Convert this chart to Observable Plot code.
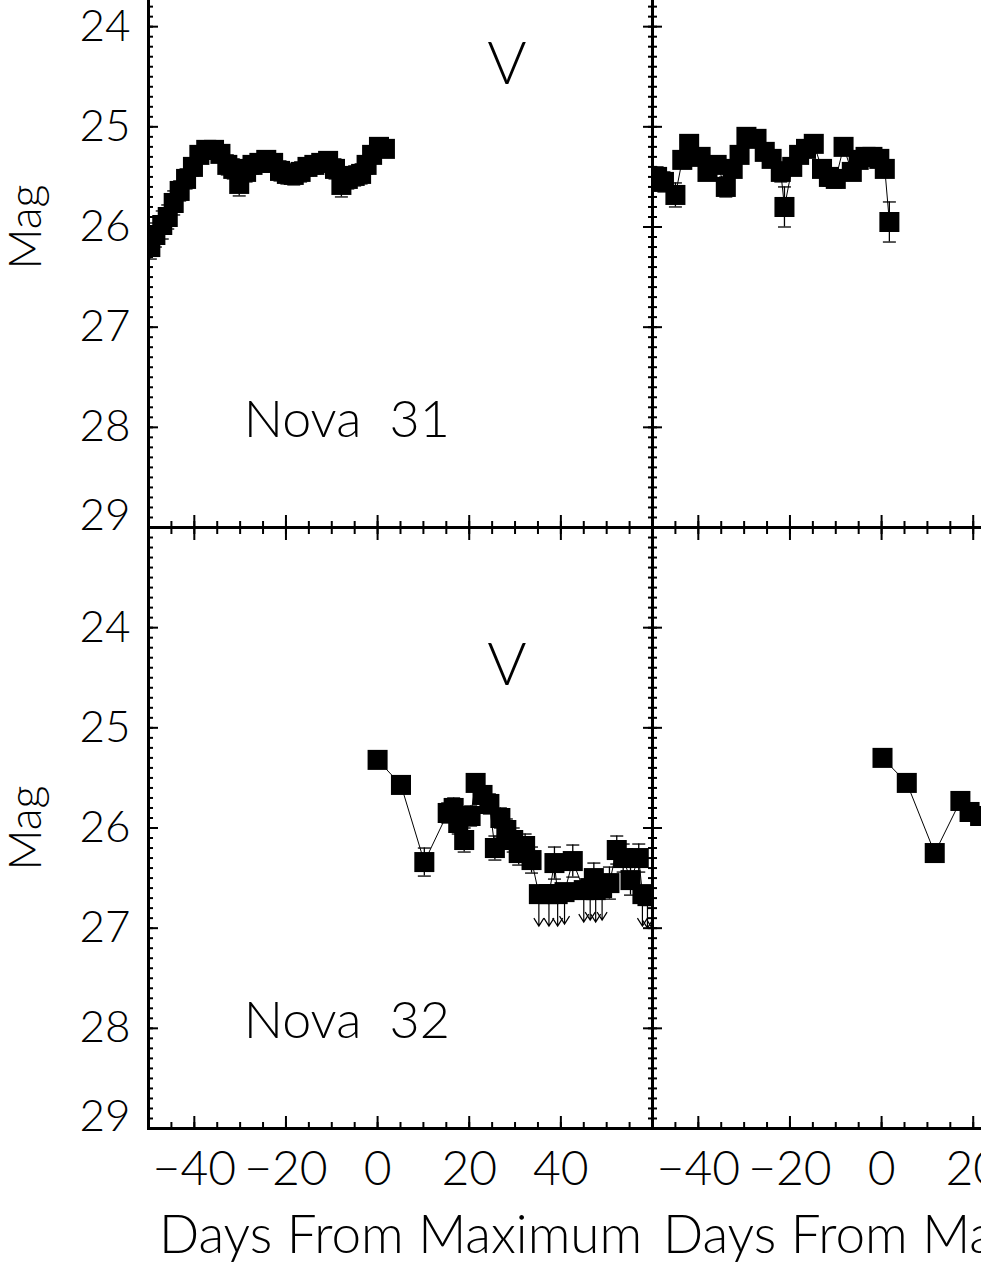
<!DOCTYPE html>
<html>
<head>
<meta charset="utf-8">
<script src="https://cdn.jsdelivr.net/npm/d3@7"></script>
<script src="https://cdn.jsdelivr.net/npm/@observablehq/plot@0.6"></script>
<style>
html, body { margin: 0; padding: 0; background: #fff; }
#wrap { position: relative; width: 981px; height: 1269px; overflow: hidden; background: #fff; }
#wrap svg { position: absolute; left: 0; top: -74px; max-width: none !important; width: 1176px !important; height: 1343px !important; }
</style>
</head>
<body>
<div id="wrap"></div>
<script>
// ---------------- data ----------------
// Nova 31, V band (top-left panel)
const n31V_day = [-49.6,-48.5,-47.0,-45.8,-44.5,-43.2,-41.8,-40.3,-38.9,-37.4,-35.7,-34.3,-32.8,-31.5,-30.2,-28.7,-27.3,-25.8,-24.3,-22.8,-21.3,-19.8,-18.3,-16.8,-15.3,-13.8,-12.3,-10.8,-9.3,-7.9,-6.5,-5.0,-3.6,-2.4,-1.2,0.3,1.6];
const n31V_mag = [26.2,26.08,25.98,25.9,25.76,25.64,25.52,25.4,25.28,25.23,25.23,25.27,25.38,25.42,25.57,25.45,25.38,25.36,25.33,25.36,25.44,25.47,25.48,25.45,25.4,25.38,25.36,25.34,25.42,25.58,25.52,25.49,25.47,25.38,25.28,25.2,25.22];
const n31V_err = [0.12,0.12,0.14,0.12,0.12,0.1,0.1,0.09,0.08,0.07,0.07,0.08,0.1,0.1,0.12,0.1,0.09,0.09,0.09,0.09,0.1,0.1,0.1,0.1,0.09,0.09,0.09,0.09,0.1,0.12,0.1,0.1,0.1,0.09,0.08,0.07,0.07];

// Nova 31, second band (top-right panel)
const n31b_day = [-49,-47.5,-45,-43.5,-42,-39.5,-38,-36,-34,-32.5,-31,-29.5,-27.3,-25.5,-24,-22,-21.2,-19.5,-18,-16.5,-14.8,-13,-11.5,-10,-8.3,-6.5,-5,-3.5,-2,-0.5,0.7,1.7];
const n31b_mag = [25.5,25.55,25.68,25.33,25.17,25.3,25.45,25.38,25.6,25.42,25.28,25.1,25.12,25.25,25.32,25.45,25.8,25.4,25.28,25.22,25.17,25.42,25.5,25.52,25.2,25.45,25.33,25.3,25.3,25.32,25.42,25.95];
const n31b_err = [0.1,0.1,0.12,0.08,0.06,0.07,0.08,0.07,0.1,0.08,0.07,0.06,0.06,0.07,0.08,0.1,0.2,0.08,0.07,0.07,0.06,0.08,0.09,0.09,0.07,0.08,0.07,0.07,0.06,0.07,0.08,0.2];

// Nova 32, V band (bottom-left panel); lim = 1 marks an upper limit
const n32V_day = [0,5.1,10.2,15.3,16.6,17.6,18.9,20.3,21.4,22.9,24.4,25.6,26.8,28.1,29.6,30.8,32.2,33.6,35.2,37.4,38.6,39.3,40.8,42.6,45.0,46.4,47.2,47.6,49.0,50.6,52.2,53.6,55.2,57.0,57.8,58.9,59.9];
const n32V_mag = [25.32,25.57,26.34,25.85,25.8,25.95,26.12,25.88,25.55,25.67,25.76,26.2,25.9,26.02,26.12,26.25,26.18,26.32,26.66,26.66,26.35,26.66,26.64,26.33,26.62,26.6,26.5,26.62,26.6,26.55,26.22,26.3,26.52,26.3,26.66,26.68,26.68];
const n32V_err = [0.04,0.05,0.14,0.1,0.1,0.11,0.12,0.1,0.08,0.09,0.1,0.12,0.1,0.11,0.12,0.12,0.12,0.13,0,0,0.16,0,0,0.16,0,0,0.15,0,0,0.16,0.14,0.14,0.15,0.14,0,0,0];
const n32V_lim = [0,0,0,0,0,0,0,0,0,0,0,0,0,0,0,0,0,0,1,1,0,1,1,0,1,1,0,1,1,0,0,0,0,0,1,1,1];

// Nova 32, second band (bottom-right panel, visible part)
const n32b_day = [0.2,5.5,11.6,17.2,19.2,21.5];
const n32b_mag = [25.3,25.55,26.25,25.73,25.84,25.88];
const n32b_err = [0.04,0.05,0.05,0.08,0.08,0.08];

// axes
const yMajor = [23,24,25,26,27,28,29];
const yLabels = [24,25,26,27,28];
const yLastLabel = [29];
const xMajor = [-40,-20,0,20,40,60];
const xLabels = [-40,-20,0,20,40];
const yMinor = d3.range(230, 291).map(v => v / 10);
const xMinor = d3.range(-50, 61, 5);

// annotations
const bandLabels = [{col: "L", row: "T", x: 28.2, y: 24.38, text: "V"}, {col: "L", row: "B", x: 28.2, y: 24.38, text: "V"}];
const novaLabels = [{col: "L", row: "T", x: -29.2, y: 27.93, text: "Nova\u00a0 31"}, {col: "L", row: "B", x: -29.2, y: 27.93, text: "Nova\u00a0 32"}];

// ---------------- build table ----------------
function series(name, col, row, days, mags, errs, lims) {
  return days.map((d, i) => ({series: name, col, row, day: d, mag: mags[i], err: errs[i], lim: lims ? lims[i] === 1 : false}));
}
const pts = [
  ...series("n31V", "L", "T", n31V_day, n31V_mag, n31V_err),
  ...series("n31b", "R", "T", n31b_day, n31b_mag, n31b_err),
  ...series("n32V", "L", "B", n32V_day, n32V_mag, n32V_err, n32V_lim),
  ...series("n32b", "R", "B", n32b_day, n32b_mag, n32b_err)
];
const det = pts.filter(d => !d.lim && d.err > 0);
const lims = pts.filter(d => d.lim);

const capSymbol = {draw(ctx, size) { const r = Math.sqrt(size / Math.PI); ctx.moveTo(-r, 0); ctx.lineTo(r, 0); }};
const arrowSymbol = {draw(ctx, size) {
  const L = Math.sqrt(size / Math.PI);
  ctx.moveTo(0, 0); ctx.lineTo(0, L);
  ctx.moveTo(-5, L - 8); ctx.lineTo(0, L); ctx.lineTo(5, L - 8);
}};

const FONT = "Lato, 'DejaVu Sans', sans-serif";
const fmt = d => d < 0 ? "\u2212" + (-d) : String(d);
const fxy = {fx: "col", fy: "row"};

const tickOpts = {facetAnchor: null, fill: "none", stroke: "black", strokeWidth: 2, label: null};

const chart = Plot.plot({
  width: 1176,
  height: 1343,
  marginLeft: 148,
  marginRight: 20,
  marginTop: 0,
  marginBottom: 141,
  style: {fontFamily: FONT, fontWeight: 300, background: "white", color: "black", overflow: "visible"},
  fx: {domain: ["L", "R"], padding: 0, axis: null, label: null},
  fy: {domain: ["T", "B"], padding: 0, axis: null, label: null},
  x: {domain: [-50, 60]},
  y: {domain: [23, 29], reverse: true},
  marks: [
    Plot.line(pts, {x: "day", y: "mag", ...fxy, z: "series", stroke: "black", strokeWidth: 1, clip: true}),
    Plot.ruleX(det, {x: "day", y1: d => d.mag - d.err, y2: d => d.mag + d.err, ...fxy, stroke: "black", strokeWidth: 1.3, clip: true}),
    Plot.dot(det, {x: "day", y: d => d.mag - d.err, ...fxy, symbol: capSymbol, r: 6.5, fill: "none", stroke: "black", strokeWidth: 1.3, clip: true}),
    Plot.dot(det, {x: "day", y: d => d.mag + d.err, ...fxy, symbol: capSymbol, r: 6.5, fill: "none", stroke: "black", strokeWidth: 1.3, clip: true}),
    Plot.dot(lims, {x: "day", y: "mag", ...fxy, symbol: arrowSymbol, r: 32, fill: "none", stroke: "black", strokeWidth: 1.2, clip: true}),
    Plot.dot(pts, {x: "day", y: "mag", ...fxy, symbol: "square", r: 11.3, fill: "black", stroke: "none", clip: true}),
    Plot.frame({stroke: "black", strokeWidth: 3}),
    // ticks on all four sides of every panel, pointing inward
    Plot.axisY(yMinor, {anchor: "left", tickSize: -5, ...tickOpts}),
    Plot.axisY(yMinor, {anchor: "right", tickSize: -5, ...tickOpts}),
    Plot.axisY(yMajor, {anchor: "left", tickSize: -10, ...tickOpts}),
    Plot.axisY(yMajor, {anchor: "right", tickSize: -10, ...tickOpts}),
    Plot.axisX(xMinor, {anchor: "bottom", tickSize: -6, ...tickOpts}),
    Plot.axisX(xMinor, {anchor: "top", tickSize: -6, ...tickOpts}),
    Plot.axisX(xMajor, {anchor: "bottom", tickSize: -12, ...tickOpts}),
    Plot.axisX(xMajor, {anchor: "top", tickSize: -12, ...tickOpts}),
    // tick labels
    Plot.axisY(yLabels, {anchor: "left", tickSize: 0, tickPadding: 18, fontSize: 44, fontWeight: 300, tickFormat: fmt, label: null, fill: "black"}),
    Plot.axisY(yLastLabel, {anchor: "left", tickSize: 0, tickPadding: 18, dy: -12, fontSize: 44, fontWeight: 300, tickFormat: fmt, label: null, fill: "black"}),
    Plot.axisX(xLabels, {anchor: "bottom", tickSize: 0, tickPadding: 22, fontSize: 48, fontWeight: 300, tickFormat: fmt, label: null, fill: "black"}),
    // axis titles
    Plot.text([{col: "L", row: "T"}, {col: "L", row: "B"}], {...fxy, text: () => "Mag", frameAnchor: "left", textAnchor: "middle", lineAnchor: "middle", dx: -122, rotate: -90, fontSize: 45, fontWeight: 300, fill: "black"}),
    Plot.text([{col: "L", row: "B"}, {col: "R", row: "B"}], {...fxy, text: () => "Days From Maximum", frameAnchor: "bottom", textAnchor: "middle", lineAnchor: "middle", dy: 108, fontSize: 53, fontWeight: 300, fill: "black"}),
    // panel annotations
    Plot.text(bandLabels, {x: "x", y: "y", ...fxy, text: "text", fontSize: 60, fontWeight: 300, fill: "black"}),
    Plot.text(novaLabels, {x: "x", y: "y", ...fxy, text: "text", textAnchor: "start", fontSize: 52, fontWeight: 300, fill: "black"})
  ]
});
document.getElementById("wrap").appendChild(chart);
</script>
</body>
</html>
